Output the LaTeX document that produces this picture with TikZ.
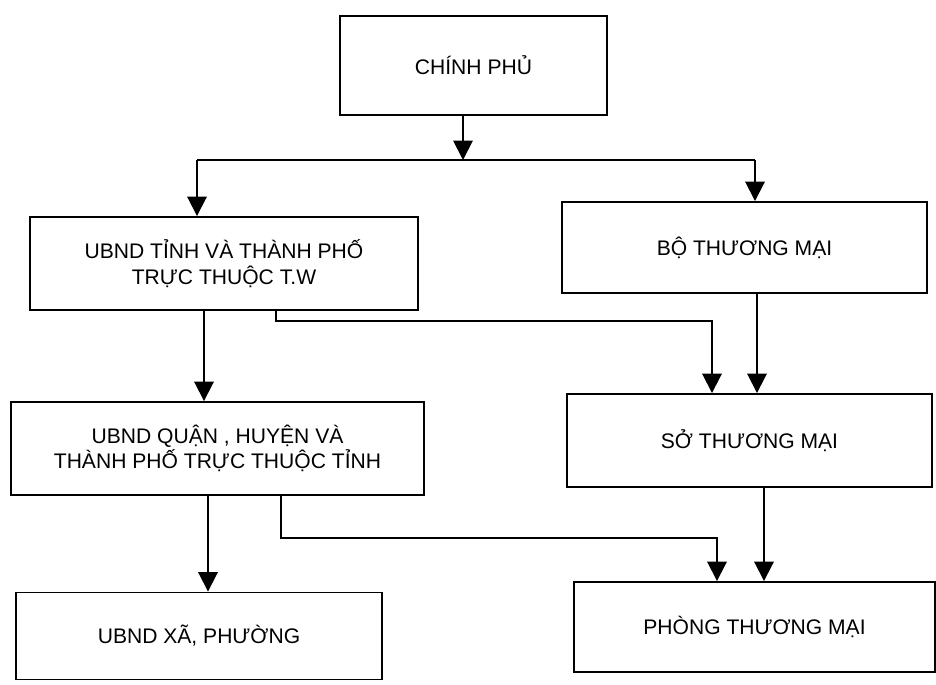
\documentclass[tikz,border=0pt]{standalone}
\usepackage{fontspec}
\setmainfont{Liberation Sans}
\usetikzlibrary{positioning, calc, arrows.meta}
\tikzset{
  khung/.style={draw, line width=1.1pt, align=center, inner sep=0pt,
    font=\fontsize{12}{14.5}\selectfont},
  muiten/.style={line width=1.1pt, -{Triangle[length=11pt,width=11pt]}},
  duong/.style={line width=1.1pt}
}
\begin{document}
\begin{tikzpicture}[x=0.02cm, y=-0.02cm]
        \useasboundingbox (0,0) rectangle (936,685);
        %cac khung
        \node[khung, minimum width=5.34cm, minimum height=1.98cm] (chinhphu) at (473.5,65.5) {CHÍNH PHỦ};
        \node[khung, minimum width=7.76cm, minimum height=1.86cm] (ubtinh) at (224,263.5) {UBND TỈNH VÀ THÀNH PHỐ\\TRỰC THUỘC T.W};
        \node[khung, minimum width=7.30cm, minimum height=1.82cm] (bo) at (744.5,247.5) {BỘ THƯƠNG MẠI};
        \node[khung, minimum width=8.26cm, minimum height=1.86cm] (ubquan) at (217.5,448.5) {UBND QUẬN , HUYỆN VÀ\\THÀNH PHỐ TRỰC THUỘC TỈNH};
        \node[khung, minimum width=7.30cm, minimum height=1.86cm] (so) at (749.5,440.5) {SỞ THƯƠNG MẠI};
        \node[khung, minimum width=7.32cm, minimum height=1.74cm] (ubxa) at (199,636) {UBND XÃ, PHƯỜNG};
        \node[khung, minimum width=7.22cm, minimum height=1.80cm] (phong) at (754.5,627) {PHÒNG THƯƠNG MẠI};
        %diem re nhanh
        \coordinate (re) at (463,160);
        \coordinate (retrai) at (197,160);
        \coordinate (rephai) at (755,160);
        \coordinate (c1) at (204,0);
        \coordinate (c2) at (276,0);
        \coordinate (c3) at (712,0);
        \coordinate (c4) at (757,0);
        \coordinate (c5) at (208,0);
        \coordinate (c6) at (281,0);
        \coordinate (c7) at (717,0);
        \coordinate (c8) at (764,0);
        %mui ten
        \draw[muiten] (chinhphu.south -| re) -- (re);
        \draw[duong] (retrai) -- (rephai);
        \draw[muiten] (retrai) -- (retrai |- ubtinh.north);
        \draw[muiten] (rephai) -- (rephai |- bo.north);
        \draw[muiten] (ubtinh.south -| c1) -- (ubquan.north -| c1);
        \draw[muiten] (ubtinh.south -| c2) -- ++(0,10) -| (so.north -| c3);
        \draw[muiten] (bo.south -| c4) -- (so.north -| c4);
        \draw[muiten] (ubquan.south -| c5) -- (ubxa.north -| c5);
        \draw[muiten] (ubquan.south -| c6) -- ++(0,42) -| (phong.north -| c7);
        \draw[muiten] (so.south -| c8) -- (phong.north -| c8);
    \end{tikzpicture}
\end{document}
